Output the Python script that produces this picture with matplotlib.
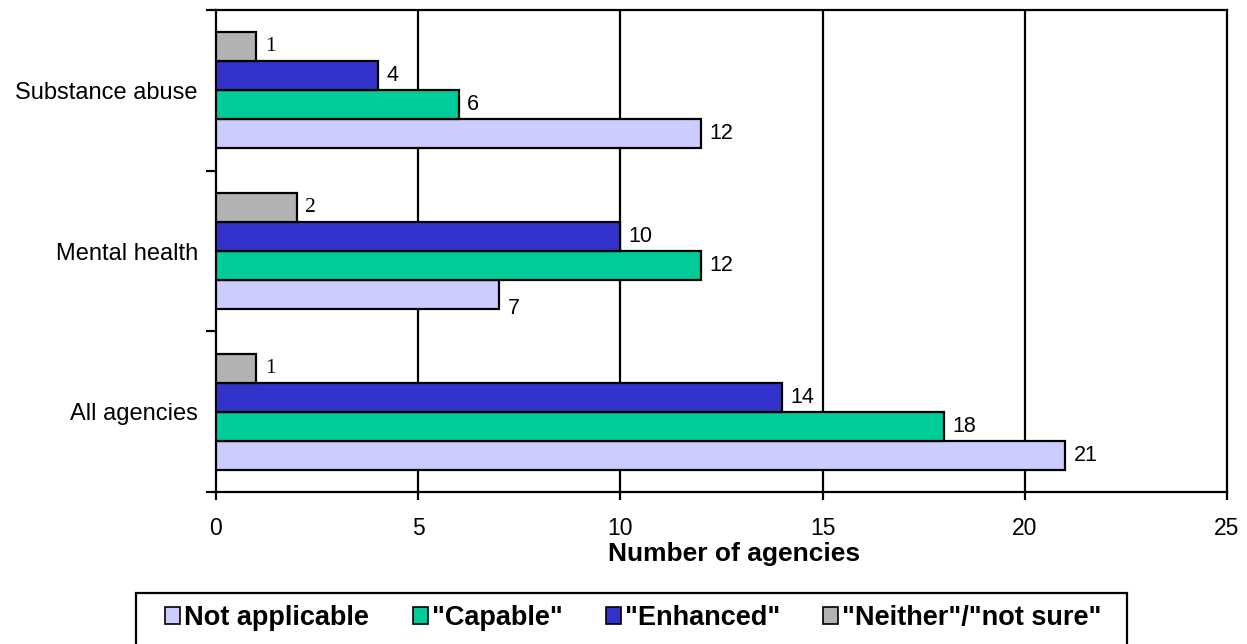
import matplotlib
matplotlib.use("Agg")
import matplotlib.pyplot as plt
import numpy as np
from matplotlib.patches import Patch, Rectangle

categories = ["All agencies", "Mental health", "Substance abuse"]
series_names = ["Not applicable", '"Capable"', '"Enhanced"', '"Neither"/"not sure"']
not_applicable = [21, 7, 12]
capable = [18, 12, 6]
enhanced = [14, 10, 4]
neither = [1, 2, 1]
series_values = [not_applicable, capable, enhanced, neither]
colors = ["#CCCCFF", "#00CC99", "#3333CC", "#B2B2B2"]
x_ticks = [0, 5, 10, 15, 20, 25]

SANS = ["Liberation Sans", "DejaVu Sans"]
SERIF = ["Liberation Serif", "DejaVu Serif"]

# labels nudged downward (in points) where they would crowd the axis line
label_nudge = {(0, 1): -10}

fig = plt.figure(figsize=(12.47, 6.44), dpi=100)
ax = fig.add_axes([216 / 1247, 152 / 644, 1011 / 1247, 482 / 644])

y = np.arange(len(categories))
h = 0.18
offsets = [-1.5 * h, -0.5 * h, 0.5 * h, 1.5 * h]

for si, (vals, col, off, name) in enumerate(zip(series_values, colors, offsets, series_names)):
    bars = ax.barh(y + off, vals, height=h, color=col, edgecolor="black",
                   linewidth=1.6, zorder=3, label=name)
    fam = SERIF if col == "#B2B2B2" else SANS
    for ci, (b, v) in enumerate(zip(bars, vals)):
        ax.annotate(str(v), (b.get_width(), b.get_y() + b.get_height() / 2),
                    xytext=(6, label_nudge.get((si, ci), 0)),
                    textcoords="offset points", va="center", ha="left",
                    fontsize=15.5, family=fam, zorder=4)

ax.set_xlim(0, 25)
ax.set_ylim(-0.5, 2.5)
ax.set_xticks(x_ticks)
ax.set_xticklabels([str(t) for t in x_ticks], family=SANS, fontsize=16.5)
ax.tick_params(axis="x", direction="out", length=6, width=1.6, pad=12)

# category boundaries carry the y ticks; labels sit at the centres
ax.set_yticks([-0.5, 0.5, 1.5, 2.5])
ax.set_yticklabels([])
ax.set_yticks(y, minor=True)
ax.set_yticklabels(categories, minor=True, family=SANS, fontsize=17)
ax.tick_params(axis="y", which="major", direction="out", length=7, width=1.6)
ax.tick_params(axis="y", which="minor", length=0, pad=13)

for gx in [5, 10, 15, 20]:
    ax.axvline(gx, color="black", linewidth=1.6, zorder=1)

for s in ax.spines.values():
    s.set_linewidth(1.6)
    s.set_color("black")

ax.set_xlabel("Number of agencies", family=SANS, fontsize=19,
              fontweight="bold")
ax.xaxis.set_label_coords(0.512, -0.104)

handles = [Patch(facecolor=c, edgecolor="black", linewidth=1.2) for c in colors]
leg = fig.legend(handles, series_names, loc="center", ncol=4,
                 bbox_to_anchor=(633.5 / 1247, 1 - 618 / 644),
                 prop={"family": SANS, "weight": "bold", "size": 19.5},
                 frameon=False,
                 handlelength=0.55, handleheight=0.55, handletextpad=0.15,
                 columnspacing=1.6, borderpad=0, borderaxespad=0)

# legend frame runs off the bottom edge of the figure
fig.patches.append(Rectangle((136 / 1247, -0.05), 991 / 1247, (644 - 593) / 644 + 0.05,
                             transform=fig.transFigure, facecolor="none",
                             edgecolor="black", linewidth=1.6))

fig.savefig("out.png", dpi=100, facecolor="white")
